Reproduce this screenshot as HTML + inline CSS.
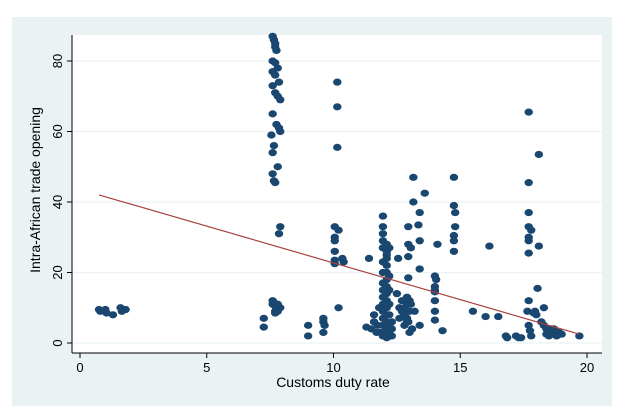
<!DOCTYPE html>
<html><head><meta charset="utf-8"><style>
html,body{margin:0;padding:0;background:#fff;}
svg{display:block;font-family:"Liberation Sans",Arial,sans-serif;}
</style></head><body>
<svg id="chart" width="620" height="417" viewBox="0 0 620 417">
<rect x="12" y="17" width="600" height="389" fill="#eaf2f3"/>
<rect x="72" y="35" width="530" height="318" fill="#ffffff"/>
<g id="grid"></g>
<g id="axes"></g>
<g id="points"></g>
<g id="fit"></g>
<text x="333" y="387" text-anchor="middle" font-size="14" fill="#000">Customs duty rate</text>
<text transform="translate(40,190) rotate(-90)" text-anchor="middle" font-size="14" fill="#000">Intra-African trade opening</text>
</svg>
<script>
const xTicks=[0,5,10,15,20];
const yTicks=[0,20,40,60,80];
const xs=[
0.75,0.8,1.0,1.05,1.3,1.6,1.65,1.8,
7.25,7.25,
7.6,7.65,7.7,7.7,7.75,7.6,7.7,7.8,7.6,7.7,7.85,7.6,7.7,7.8,7.9,7.6,7.75,7.85,7.9,7.55,7.65,7.6,7.8,7.6,7.65,7.7,
7.9,7.85,7.6,7.65,7.7,7.7,7.9,7.8,7.7,7.75,7.8,7.6,
9.0,9.0,9.6,9.6,9.65,9.6,
10.15,10.15,10.15,10.05,10.2,10.05,10.05,10.05,10.05,10.35,10.4,10.05,10.2,
11.3,11.4,11.5,11.6,11.6,11.7,11.75,11.8,11.85,
11.95,11.95,11.95,11.95,11.95,11.95,11.95,11.95,11.95,11.95,11.95,11.95,11.95,11.95,11.95,11.95,
12.1,12.1,12.1,12.1,12.1,12.1,12.1,12.1,12.1,12.1,12.1,12.1,12.1,12.1,12.1,12.1,12.1,
12.2,12.2,12.2,12.2,12.2,12.2,12.2,12.25,12.3,12.3,12.3,
12.5,12.6,12.6,12.7,12.8,12.8,12.9,12.9,13.0,13.0,13.1,13.0,12.7,12.8,12.9,13.2,13.4,12.9,13.05,12.95,
13.15,13.6,13.15,13.4,13.35,12.95,12.95,13.05,13.4,12.55,12.95,13.4,12.95,
14.0,14.05,14.0,14.0,14.0,14.0,14.0,14.0,14.1,14.3,
14.75,14.75,14.8,14.8,14.75,14.75,14.75,
15.5,16.0,16.5,16.15,
16.8,16.85,17.2,17.3,17.4,
17.7,17.7,17.7,17.7,17.8,17.7,17.7,17.7,17.7,17.65,17.7,17.75,17.8,17.9,
18.1,18.1,18.05,18.3,18.2,17.95,18.0,
18.3,18.4,18.5,18.6,18.7,18.8,18.9,19.0,18.5,18.7,18.8,18.6,18.4,19.7];
const ys=[
9.5,9,9.5,8.5,8,10,9,9.5,
7,4.5,
87,86,85,84,83,80,79.5,78,77,76,74,73,71,70,69,65,62,61,60,59,56,54,50,48,46,45.5,
33,31,12,11.5,10.5,9,10,9,8.5,10,11,11,
5,2,7,6,5,3,
74,67,55.5,33,32,30,29,26,23.5,24,23,22.5,10,
4.5,24,4,6,8,3,5,10,3,
36,33,31,29,27,23,20,17,15,13,11,9,7,5,3,2,
28,26,24,22,20,18,16,14,12,10,8,6,4,3,2,1.5,25,
27,19,11,5,2.5,15,8,2,6,4,2,
14,10,7,12,8,5,11,6,3,9,4,12,9,10,7,9,5,13,11,6,
47,42.5,40,37,33.5,33,28,27,29,24,24.5,21,18.5,
19,18,16,15,14.5,12,9,6.5,28,3.5,
47,39,37,33,30.5,29,26,
9,7.5,7.5,27.5,
2,1.5,2,1.5,1.5,
65.5,45.5,37,33,32,30,29,25.5,12,9,5,3.5,2,8.5,
53.5,27.5,15.5,10,6,9,8,
5,4,3,4,3,2.5,3,2.5,2,4,2,3.5,2.5,2];
const fitX=[0.75,19.7];
const fitY=[42,2.5];
const NS='http://www.w3.org/2000/svg';
const X=v=>80+v*(587-80)/20;
const Y=v=>343-v*(343-61)/80;
function mk(tag,attrs,parent){const e=document.createElementNS(NS,tag);for(const k in attrs)e.setAttribute(k,attrs[k]);parent.appendChild(e);return e;}
const grid=document.getElementById('grid'),axes=document.getElementById('axes'),pts=document.getElementById('points'),fit=document.getElementById('fit');
yTicks.forEach(t=>{
 const g=mk('line',{x1:72,x2:602,y1:Y(t),y2:Y(t),stroke:'#eaf2f3','stroke-width':1.2},grid);
 
 
 const tk=mk('line',{x1:67,x2:72,y1:Y(t),y2:Y(t),stroke:'#000','stroke-width':1},axes);
 
 
 const tx=mk('text',{transform:'translate(62,'+Y(t)+') rotate(-90)','text-anchor':'middle','font-size':13,fill:'#000'},axes);
 tx.textContent=t;
 
 
});
const ya=mk('line',{x1:72,x2:72,y1:35,y2:353,stroke:'#000','stroke-width':1},axes);


const xa=mk('line',{x1:72,x2:602,y1:353,y2:353,stroke:'#000','stroke-width':1},axes);


xTicks.forEach(t=>{
 const tk=mk('line',{x1:X(t),x2:X(t),y1:353,y2:358,stroke:'#000','stroke-width':1},axes);
 
 
 const tx=mk('text',{x:X(t),y:372,'text-anchor':'middle','font-size':13,fill:'#000'},axes);
 tx.textContent=t;
 
 
});
const n=Math.min(xs.length,ys.length);
for(let i=0;i<n;i++){
 const c=mk('ellipse',{cx:X(xs[i]),cy:Y(ys[i]),rx:4.2,ry:3.6,fill:'#1a476f'},pts);
 
 
}
const fl=mk('line',{x1:X(fitX[0]),y1:Y(fitY[0]),x2:X(fitX[1]),y2:Y(fitY[1]),stroke:'#a8433e','stroke-width':1.2},fit);


</script>
</body></html>
